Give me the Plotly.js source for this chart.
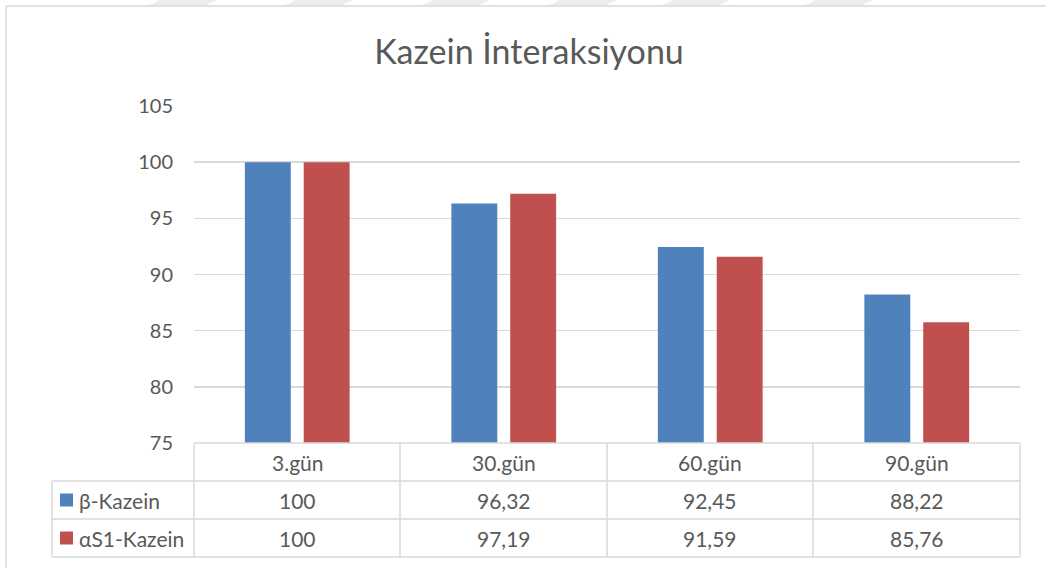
<!DOCTYPE html>
<html>
<head>
<meta charset="utf-8">
<script src="https://cdn.plot.ly/plotly-3.0.1.min.js"></script>
<style>html,body{margin:0;padding:0;background:#fff;}#chart{width:1046px;height:568px;}</style>
</head>
<body>
<div id="chart"></div>
<script>
// ---- data ----
const categories = ["3.gün", "30.gün", "60.gün", "90.gün"];
const seriesNames = ["β-Kazein", "αS1-Kazein"];
const betaKazein = [100, 96.32, 92.45, 88.22];
const alphaS1Kazein = [100, 97.19, 91.59, 85.76];
const yTickValues = [75, 80, 85, 90, 95, 100, 105];

// ---- styling ----
const FONT = "Lato, 'Open Sans', sans-serif";
const TXT = "#595959";
const GRID = "#d9d9d9";
const colors = ["#4F81BD", "#C0504D"];

const W = 1046, H = 568;
const M = {l: 194, r: 26, t: 106, b: 125};
const plotW = W - M.l - M.r, plotH = H - M.t - M.b;
const px = x => (x - M.l) / plotW;
const py = y => (H - M.b - y) / plotH;

function fmt(v) {
  return Number.isInteger(v) ? String(v) : v.toFixed(2).replace('.', ',');
}

const traces = [betaKazein, alphaS1Kazein].map((vals, i) => ({
  type: 'bar',
  name: seriesNames[i],
  x: categories,
  y: vals,
  marker: {color: colors[i]},
  hoverinfo: 'x+y+name'
}));

const shapes = [];
const line = (x0, y0, x1, y1) => shapes.push({
  type: 'line', xref: 'paper', yref: 'paper',
  x0: px(x0), y0: py(y0), x1: px(x1), y1: py(y1),
  line: {color: GRID, width: 1.5}, layer: 'above'
});

// watermark stripes at top
[147, 283, 420, 547, 660, 803].forEach(s => {
  shapes.push({
    type: 'path', xref: 'paper', yref: 'paper', layer: 'below',
    path: `M ${px(s)} ${py(6)} L ${px(s + 57)} ${py(6)} L ${px(s + 70)} ${py(0)} L ${px(s + 13)} ${py(0)} Z`,
    fillcolor: '#ededed', line: {width: 0}
  });
});

// outer chart border
line(6, 6, 1046, 6);
line(6, 6, 6, 568);

// data table grid
const colEdges = [194, 400, 607, 813, 1020];
line(194, 443, 1020, 443);
line(52, 481, 1020, 481);
line(52, 519, 1020, 519);
line(52, 557, 1020, 557);
line(52, 481, 52, 557);
colEdges.forEach(x => line(x, 443, x, 557));

// legend keys
[500, 538].forEach((yc, i) => {
  shapes.push({
    type: 'rect', xref: 'paper', yref: 'paper',
    x0: px(60), x1: px(73), y0: py(yc - 6.5), y1: py(yc + 6.5),
    fillcolor: colors[i], line: {width: 0}
  });
});

const annotations = [];
const rowCenters = [462, 500, 538];
categories.forEach((c, j) => {
  annotations.push({
    xref: 'x', yref: 'paper', x: c, y: py(rowCenters[0]),
    text: c, showarrow: false, xanchor: 'center', yanchor: 'middle',
    font: {family: FONT, size: 21, color: TXT}
  });
  [betaKazein, alphaS1Kazein].forEach((vals, i) => {
    annotations.push({
      xref: 'x', yref: 'paper', x: c, y: py(rowCenters[i + 1]),
      text: fmt(vals[j]), showarrow: false, xanchor: 'center', yanchor: 'middle',
      font: {family: FONT, size: 21, color: TXT}
    });
  });
});
seriesNames.forEach((n, i) => {
  annotations.push({
    xref: 'paper', yref: 'paper', x: px(77), y: py(rowCenters[i + 1]),
    text: n, showarrow: false, xanchor: 'left', yanchor: 'middle',
    font: {family: FONT, size: 21, color: TXT}
  });
});

const layout = {
  width: W, height: H,
  margin: M,
  paper_bgcolor: '#fff', plot_bgcolor: '#fff',
  showlegend: false,
  barmode: 'group',
  bargap: 0.43,
  bargroupgap: 0.22,
  title: {
    text: 'Kazein İnteraksiyonu',
    font: {family: FONT, size: 34, color: TXT},
    xref: 'container', yref: 'container',
    x: 529 / W, y: 1 - 52 / H, xanchor: 'center', yanchor: 'middle'
  },
  xaxis: {
    type: 'category',
    showticklabels: false, showgrid: false, zeroline: false, showline: false,
    ticks: ''
  },
  yaxis: {
    range: [75, 105],
    tickvals: yTickValues,
    showgrid: true, gridcolor: GRID, gridwidth: 1.5,
    zeroline: false, showline: false, ticks: '',
    ticklabelstandoff: 20,
    tickfont: {family: FONT, size: 20, color: TXT}
  },
  shapes: shapes,
  annotations: annotations
};

Plotly.newPlot('chart', traces, layout, {displayModeBar: false, staticPlot: true});
</script>
</body>
</html>
